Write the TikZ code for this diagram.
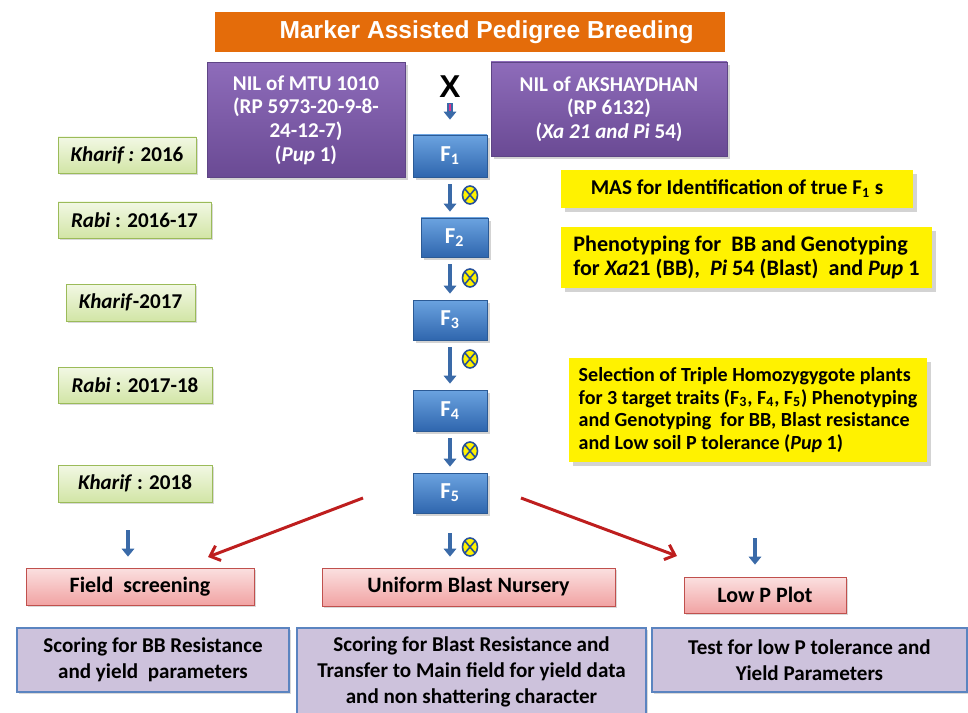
\documentclass[tikz,border=0pt]{standalone}
\usepackage{fontspec}
\setmainfont{Carlito}
\newfontfamily\arialfont{Liberation Sans}
\usetikzlibrary{arrows.meta,shadows,shapes.geometric}
\newlength\pxl
\setlength\pxl{0.02cm}
\definecolor{bannerC}{HTML}{E46C0A}
\definecolor{parentT}{HTML}{8E6CBA}
\definecolor{parentD}{HTML}{6A4A94}
\definecolor{parentB}{HTML}{5E4585}
\definecolor{genT}{HTML}{6BA3E0}
\definecolor{genD}{HTML}{2F66AE}
\definecolor{genB}{HTML}{2B5A95}
\definecolor{seasonT}{HTML}{F2F8E4}
\definecolor{seasonD}{HTML}{D2E5A6}
\definecolor{seasonB}{HTML}{9BBB59}
\definecolor{siteT}{HTML}{FBE0E0}
\definecolor{siteD}{HTML}{F1A3A3}
\definecolor{siteB}{HTML}{C0504D}
\definecolor{taskF}{HTML}{CDC2DC}
\definecolor{taskB}{HTML}{5B84C0}
\definecolor{flowC}{HTML}{3A6AA8}
\definecolor{splitC}{HTML}{BE1E1E}
\definecolor{crossC}{HTML}{D9368E}
\definecolor{selfB}{HTML}{27519A}
\tikzset{
  box/.style={rectangle, align=center, inner sep=2pt, font=\bfseries\fontsize{12}{13.5}\selectfont},
  banner/.style={box, fill=bannerC, text=white, font=\arialfont\bfseries\fontsize{14}{16}\selectfont},
  parent/.style={box, draw=parentB, top color=parentT, bottom color=parentD, text=white,
    drop shadow={shadow xshift=1.5pt, shadow yshift=-1.5pt, opacity=0.35}},
  gen/.style={box, draw=genB, top color=genT, bottom color=genD, text=white,
    minimum width=74*\pxl, minimum height=40*\pxl, font=\bfseries\fontsize{13}{15}\selectfont,
    drop shadow={shadow xshift=1.5pt, shadow yshift=-1.5pt, opacity=0.35}},
  season/.style={box, draw=seasonB, top color=seasonT, bottom color=seasonD,
    minimum height=36*\pxl, drop shadow={shadow xshift=1.2pt, shadow yshift=-1.2pt, opacity=0.3}},
  note/.style={box, fill=yellow, align=left,
    drop shadow={shadow xshift=2pt, shadow yshift=-2pt, opacity=0.35}},
  site/.style={box, draw=siteB, top color=siteT, bottom color=siteD, font=\bfseries\fontsize{12.5}{14}\selectfont,
    drop shadow={shadow xshift=1.2pt, shadow yshift=-1.2pt, opacity=0.3}},
  task/.style={box, draw=taskB, line width=0.8pt, fill=taskF, font=\bfseries\fontsize{12}{14.8}\selectfont,
    drop shadow={shadow xshift=1.2pt, shadow yshift=-1.2pt, opacity=0.3}},
  flow/.style={draw=flowC, line width=2.8pt, -{Triangle[width=7pt,length=4.5pt]}},
  split/.style={draw=splitC, line width=1.7pt, -{Straight Barb[width=9pt,length=5pt,line width=1.7pt]}},
  selfing/.style={ellipse, draw=selfB, fill=yellow, line width=0.9pt, inner sep=0pt,
    minimum width=15*\pxl, minimum height=18*\pxl,
    path picture={\draw[selfB, line width=0.9pt]
      (path picture bounding box.north west) -- (path picture bounding box.south east)
      (path picture bounding box.north east) -- (path picture bounding box.south west);}},
}
\begin{document}
\begin{tikzpicture}[x=0.02cm,y=-0.02cm]
\useasboundingbox (0,0) rectangle (968,713);

\node[banner, minimum width=510*\pxl, minimum height=40*\pxl] (title) at (470,32) {\hspace*{19pt}Marker Assisted Pedigree Breeding};

\node[parent, minimum width=198*\pxl, minimum height=115*\pxl] (nilA) at (306,120) {NIL of MTU 1010\\(RP 5973-20-9-8-\\24-12-7)\\(\textit{Pup} 1)};
\node[parent, minimum width=236*\pxl, minimum height=94*\pxl] (nilB) at (609,109) {NIL of AKSHAYDHAN\\(RP 6132)\\(\textit{Xa 21 and Pi} 54)};
\node[font=\arialfont\bfseries\fontsize{18}{18}\selectfont, inner sep=0pt] (cross) at (450,87) {X};

\node[gen, minimum height=42*\pxl] (F1) at (450,156) {F\textsubscript{1}};
\node[gen, minimum width=67*\pxl, minimum height=39*\pxl] (F2) at (454.5,237.5) {F\textsubscript{2}};
\node[gen] (F3) at (450,320) {F\textsubscript{3}};
\node[gen, minimum height=41*\pxl] (F4) at (450,410.5) {F\textsubscript{4}};
\node[gen] (F5) at (450,493) {F\textsubscript{5}};

\node[season, minimum width=138*\pxl] (k16) at (127,155) {\textit{Kharif :} 2016};
\node[season, minimum width=153*\pxl] (r16) at (134.5,220) {\textit{Rabi} : 2016-17};
\node[season, minimum width=129*\pxl, minimum height=37*\pxl] (k17) at (130.5,302.5) {\textit{Kharif}-2017};
\node[season, minimum width=154*\pxl] (r17) at (135,385) {\textit{Rabi} : 2017-18};
\node[season, minimum width=154*\pxl, minimum height=37*\pxl] (k18) at (135,483.5) {\textit{Kharif} : 2018};

\node[note, minimum width=352*\pxl, minimum height=38*\pxl] (mas) at (737,189) {MAS for Identification of true F\textsubscript{1} s};
\node[note, minimum width=371*\pxl, minimum height=61*\pxl, font=\bfseries\fontsize{12.6}{14}\selectfont] (pheno) at (746.5,257.5) {Phenotyping for\ \ BB and Genotyping\\for \textit{Xa}21 (BB),\ \ \textit{Pi} 54 (Blast)\ \ and \textit{Pup} 1};
\node[note, minimum width=358*\pxl, minimum height=104*\pxl, font=\bfseries\fontsize{11.4}{13}\selectfont] (sel) at (748,410) {Selection of Triple Homozygygote plants\\for 3 target traits (F\textsubscript{3}, F\textsubscript{4}, F\textsubscript{5}) Phenotyping\\and Genotyping\ \ for\ BB,\ Blast\ resistance\\and\ Low soil P tolerance (\textit{Pup} 1)};

\node[site, minimum width=228*\pxl, minimum height=37*\pxl] (fs) at (140,586.5) {Field\ \ screening};
\node[site, minimum width=293*\pxl, minimum height=38*\pxl] (ubn) at (468.5,587) {Uniform Blast Nursery};
\node[site, minimum width=162*\pxl, minimum height=36*\pxl] (lpp) at (765,595) {Low P Plot};

\node[task, minimum width=272*\pxl, minimum height=64*\pxl] (bbs) at (153,660) {Scoring for BB Resistance\\and yield\ \ parameters};
\node[task, minimum width=349*\pxl, minimum height=88*\pxl] (bls) at (471.5,672) {Scoring for Blast Resistance and\\Transfer to Main field for yield data\\and non shattering character};
\node[task, minimum width=315*\pxl, minimum height=64*\pxl] (lps) at (809.5,660) {Test for low P tolerance and\\Yield Parameters};

\draw[flow, draw=flowC, line width=3.2pt, shorten <=5*\pxl, shorten >=15*\pxl] (cross.south) -- (cross.south |- F1.north);
\draw[crossC, line width=1.2pt, shorten <=6*\pxl, shorten >=24*\pxl] (cross.south) -- (cross.south |- F1.north);
\foreach \a/\b in {F1/F2,F2/F3,F3/F4,F4/F5}
  \draw[flow, shorten <=7*\pxl, shorten >=6*\pxl] (F1.south |- \a.south) -- (F1.south |- \b.north);
\draw[flow, shorten <=20*\pxl, shorten >=11*\pxl] (F5.south) -- (F5.south |- ubn.north);
\foreach \i/\y in {1/195,2/278,3/359,4/451,5/547}
  \node[selfing] (s\i) at (470,\y) {};

\coordinate (fsIn) at (128,530);
\coordinate (lpIn) at (755,538);
\draw[flow, shorten >=11*\pxl] (fsIn) -- (fsIn |- fs.north);
\draw[flow, shorten >=12*\pxl] (lpIn) -- (lpIn |- lpp.north);

\coordinate (leftA) at (363,498);
\coordinate (leftB) at (208,557);
\coordinate (rightA) at (521,498);
\coordinate (rightB) at (677,556);
\draw[split] (leftA) -- (leftB);
\draw[split] (rightA) -- (rightB);
\end{tikzpicture}
\end{document}
